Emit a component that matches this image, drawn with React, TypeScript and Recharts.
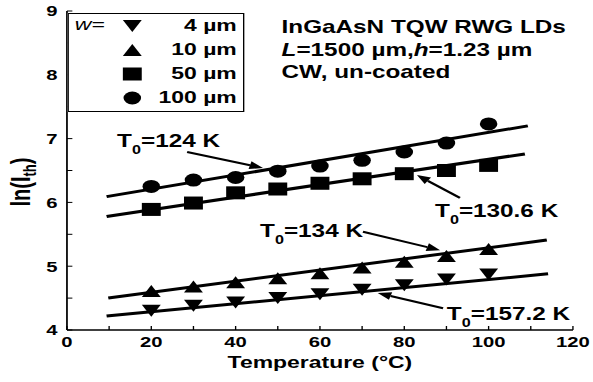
import React from "react";
import {
  ScatterChart,
  Scatter,
  XAxis,
  YAxis,
  ReferenceLine,
  ReferenceDot,
  Legend,
} from "recharts";

// the original figure is stretched sideways, so the chart is drawn narrow and scaled in x
const SX = 1.35;
const W = 439;
const H = 382;
const FONT = '"Liberation Sans", Arial, sans-serif';

const temps = [20, 30, 40, 50, 60, 70, 80, 90, 100];
const w4 = [4.3, 4.38, 4.43, 4.5, 4.56, 4.63, 4.7, 4.79, 4.87];
const w10 = [4.61, 4.68, 4.75, 4.81, 4.89, 4.98, 5.07, 5.16, 5.27];
const w50 = [5.89, 5.99, 6.15, 6.21, 6.3, 6.37, 6.45, 6.5, 6.58];
const w100 = [6.25, 6.35, 6.39, 6.49, 6.57, 6.66, 6.79, 6.93, 7.23];

// linear fits, start and end of each line
const fitX4 = [9.4, 114.1];
const fitY4 = [4.22, 4.88];
const fitX10 = [9.8, 113.8];
const fitY10 = [4.5, 5.41];
const fitX50 = [9.4, 108.6];
const fitY50 = [5.78, 6.76];
const fitX100 = [9.4, 109.3];
const fitY100 = [6.09, 7.2];

const xTicks = [0, 10, 20, 30, 40, 50, 60, 70, 80, 90, 100, 110, 120];
const yTicks = [4, 4.5, 5, 5.5, 6, 6.5, 7, 7.5, 8, 8.5, 9];

const widths = ["4 µm", "10 µm", "50 µm", "100 µm"];

// T0 annotations
const t0Labels = ["=124 K", "=130.6 K", "=134 K", "=157.2 K"];
const t0X = [11.9, 87.3, 45.8, 90.1];
const t0Y = [6.87, 5.77, 5.46, 4.16];
const arrowX1 = [28.5, 93.2, 70.2, 89.2];
const arrowY1 = [6.79, 6.07, 5.54, 4.34];
const arrowX2 = [46.5, 83.0, 88.5, 73.7];
const arrowY2 = [6.54, 6.43, 5.25, 4.58];

const infoLines = ["InGaAsN TQW RWG LDs", "L=1500 µm,h=1.23 µm", "CW, un-coated"];

const pts = (xs: number[], ys: number[]) => xs.map((x, i) => ({ x, y: ys[i] }));

const Down = ({ cx, cy }: any) => (
  <polygon points={`${cx - 7},${cy - 6} ${cx + 7},${cy - 6} ${cx},${cy + 6}`} fill="#000" />
);
const Up = ({ cx, cy }: any) => (
  <polygon points={`${cx - 7},${cy + 6} ${cx + 7},${cy + 6} ${cx},${cy - 6}`} fill="#000" />
);
const Sq = ({ cx, cy }: any) => <rect x={cx - 7} y={cy - 6.5} width={14} height={13} fill="#000" />;
const Circ = ({ cx, cy }: any) => <ellipse cx={cx} cy={cy} rx={6.5} ry={6.5} fill="#000" />;
const NoDot = () => <g />;

const shapes: Record<string, any> = { "4 µm": Down, "10 µm": Up, "50 µm": Sq, "100 µm": Circ };

const LegendBox = (props: any) => {
  const names = (props.payload || []).map((p: any) => p.value);
  const items = widths.filter((w) => names.includes(w));
  return (
    <div
      style={{
        position: "relative",
        width: 131,
        height: 99,
        boxSizing: "border-box",
        border: "1px solid #000",
        fontFamily: FONT,
        fontWeight: "bold",
        fontSize: 17,
        background: "#fff",
      }}
    >
      <span style={{ position: "absolute", left: 4, top: 1, fontStyle: "italic", fontWeight: "normal" }}>
        w=
      </span>
      {items.map((name: string, i: number) => {
        const S = shapes[name];
        return (
          <div key={name} style={{ position: "absolute", top: i * 24, left: 0, width: 129, height: 24 }}>
            <svg width={20} height={24} style={{ position: "absolute", left: 37, top: 0 }}>
              <S cx={10} cy={12} />
            </svg>
            <span style={{ position: "absolute", right: 5, top: 2 }}>{name}</span>
          </div>
        );
      })}
    </div>
  );
};

const BottomTick = (props: any) => {
  const { x, y, payload } = props;
  const axisY = y - 4;
  return (
    <g>
      <line x1={x} y1={axisY} x2={x} y2={axisY - 4} stroke="#000" />
      {payload.value % 20 === 0 && (
        <text x={x} y={axisY + 17} textAnchor="middle" fontSize={15} fontWeight="bold" fontFamily={FONT} fill="#000">
          {payload.value}
        </text>
      )}
    </g>
  );
};

const LeftTick = (props: any) => {
  const { x, y, payload } = props;
  const axisX = x + 7;
  return (
    <g>
      <line x1={axisX} y1={y} x2={axisX + 4} y2={y} stroke="#000" />
      {Number.isInteger(payload.value) && (
        <text x={x} y={y + 5.5} textAnchor="end" fontSize={15} fontWeight="bold" fontFamily={FONT} fill="#000">
          {payload.value}
        </text>
      )}
    </g>
  );
};

const TopTick = ({ x, y }: any) => <line x1={x} y1={y} x2={x} y2={y + 4} stroke="#000" />;
const RightTick = ({ x, y }: any) => <line x1={x} y1={y} x2={x - 4} y2={y} stroke="#000" />;

const Arrow = (props: any) => {
  const { x1, y1, x2, y2 } = props;
  const a = Math.atan2(y2 - y1, x2 - x1);
  const len = 10;
  const hw = 4;
  const bx = x2 - len * Math.cos(a);
  const by = y2 - len * Math.sin(a);
  const nx = -Math.sin(a) * hw;
  const ny = Math.cos(a) * hw;
  return (
    <g>
      <line x1={x1} y1={y1} x2={bx} y2={by} stroke="#000" strokeWidth={2} />
      <polygon points={`${x2},${y2} ${bx + nx},${by + ny} ${bx - nx},${by - ny}`} fill="#000" />
    </g>
  );
};

const t0Shape = (label: string) => (props: any) => (
  <text x={props.cx} y={props.cy} fontSize={18} fontWeight="bold" fontFamily={FONT} fill="#000">
    T
    <tspan fontSize={12} dy={7}>
      0
    </tspan>
    <tspan dy={-7}>{label}</tspan>
  </text>
);

const InfoShape = (props: any) => (
  <text x={props.cx} y={props.cy} fontSize={18} fontWeight="bold" fontFamily={FONT} fill="#000">
    <tspan x={props.cx}>{infoLines[0]}</tspan>
    <tspan x={props.cx} dy={23}>
      <tspan fontStyle="italic">L</tspan>=1500 µm,<tspan fontStyle="italic">h</tspan>=1.23 µm
    </tspan>
    <tspan x={props.cx} dy={22}>
      {infoLines[2]}
    </tspan>
  </text>
);

const XTitle = (props: any) => {
  const vb = props.viewBox;
  return (
    <text x={vb.x + vb.width / 2} y={vb.y + 38} textAnchor="middle" fontSize={17} fontWeight="bold" fontFamily={FONT} fill="#000">
      Temperature (°C)
    </text>
  );
};

const YTitle = () => (
  <text x={22} y={182} transform="rotate(-90 22 182)" textAnchor="middle" fontSize={20} fontWeight="bold" fontFamily={FONT} fill="#000">
    ln(I
    <tspan fontSize={13} dy={5}>
      th
    </tspan>
    <tspan dy={-5}>)</tspan>
  </text>
);

export default function App() {
  return (
    <div style={{ position: "absolute", left: 0, top: 0, width: 593, height: 382, overflow: "hidden", background: "#fff" }}>
      <div style={{ width: W, height: H, transform: `scaleX(${SX})`, transformOrigin: "0 0" }}>
        <ScatterChart width={W} height={H} margin={{ top: 11, right: 14.6, bottom: 0, left: 0 }}>
          <XAxis
            dataKey="x"
            type="number"
            domain={[0, 120]}
            ticks={xTicks}
            interval={0}
            height={52}
            tickSize={0}
            tickMargin={4}
            tickLine={false}
            tick={<BottomTick />}
            axisLine={{ stroke: "#000", strokeWidth: 1.3 }}
            label={{ content: XTitle }}
          />
          <YAxis
            dataKey="y"
            type="number"
            domain={[4, 9]}
            ticks={yTicks}
            interval={0}
            width={49.6}
            tickSize={0}
            tickMargin={7}
            tickLine={false}
            tick={<LeftTick />}
            axisLine={{ stroke: "#000", strokeWidth: 1.3 }}
            label={{ content: YTitle }}
          />
          <XAxis
            xAxisId="top"
            orientation="top"
            type="number"
            domain={[0, 120]}
            ticks={xTicks}
            interval={0}
            height={0}
            tickSize={0}
            tickMargin={0}
            tickLine={false}
            tick={<TopTick />}
            axisLine={{ stroke: "#000", strokeWidth: 1.3 }}
          />
          <YAxis
            yAxisId="right"
            orientation="right"
            type="number"
            domain={[4, 9]}
            ticks={yTicks}
            interval={0}
            width={0}
            tickSize={0}
            tickMargin={0}
            tickLine={false}
            tick={<RightTick />}
            axisLine={{ stroke: "#000", strokeWidth: 1.3 }}
          />
          <Legend
            layout="vertical"
            align="center"
            verticalAlign="middle"
            wrapperStyle={{ position: "absolute", top: 13, left: 50.4, width: 131, height: 99 }}
            content={<LegendBox />}
          />
          <Scatter name="fit4" data={pts(fitX4, fitY4)} line={{ stroke: "#000", strokeWidth: 3 }} shape={NoDot} legendType="none" isAnimationActive={false} />
          <Scatter name="fit10" data={pts(fitX10, fitY10)} line={{ stroke: "#000", strokeWidth: 3 }} shape={NoDot} legendType="none" isAnimationActive={false} />
          <Scatter name="fit50" data={pts(fitX50, fitY50)} line={{ stroke: "#000", strokeWidth: 3 }} shape={NoDot} legendType="none" isAnimationActive={false} />
          <Scatter name="fit100" data={pts(fitX100, fitY100)} line={{ stroke: "#000", strokeWidth: 3 }} shape={NoDot} legendType="none" isAnimationActive={false} />
          <Scatter name={widths[0]} data={pts(temps, w4)} shape={Down} fill="#000" isAnimationActive={false} />
          <Scatter name={widths[1]} data={pts(temps, w10)} shape={Up} fill="#000" isAnimationActive={false} />
          <Scatter name={widths[2]} data={pts(temps, w50)} shape={Sq} fill="#000" isAnimationActive={false} />
          <Scatter name={widths[3]} data={pts(temps, w100)} shape={Circ} fill="#000" isAnimationActive={false} />
          {t0Labels.map((lab, i) => (
            <ReferenceLine
              key={"a" + i}
              segment={[
                { x: arrowX1[i], y: arrowY1[i] },
                { x: arrowX2[i], y: arrowY2[i] },
              ]}
              shape={Arrow}
              ifOverflow="visible"
            />
          ))}
          {t0Labels.map((lab, i) => (
            <ReferenceDot key={"t" + i} x={t0X[i]} y={t0Y[i]} r={0} shape={t0Shape(lab)} ifOverflow="visible" />
          ))}
          <ReferenceDot x={50.9} y={8.655} r={0} shape={InfoShape} ifOverflow="visible" />
        </ScatterChart>
      </div>
    </div>
  );
}
